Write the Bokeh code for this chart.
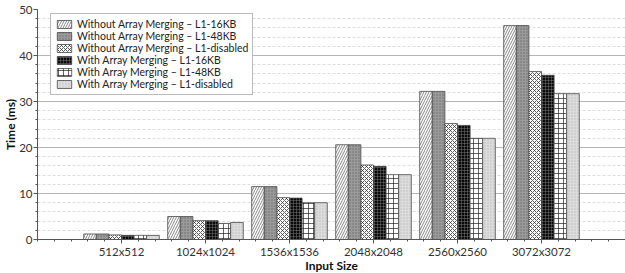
import numpy as np
from bokeh.plotting import figure
from bokeh.models import FixedTicker, SingleIntervalTicker, Range1d, Legend, LegendItem
from bokeh.embed import file_html
from bokeh.resources import INLINE

categories = ["512x512", "1024x1024", "1536x1536", "2048x2048", "2560x2560", "3072x3072"]
series_names = [
    "Without Array Merging \u2013 L1-16KB",
    "Without Array Merging \u2013 L1-48KB",
    "Without Array Merging \u2013 L1-disabled",
    "With Array Merging \u2013 L1-16KB",
    "With Array Merging \u2013 L1-48KB",
    "With Array Merging \u2013 L1-disabled",
]
wo_16kb = [1.2, 5.0, 11.5, 20.6, 32.2, 46.5]
wo_48kb = [1.2, 5.0, 11.5, 20.6, 32.2, 46.5]
wo_disabled = [1.0, 4.1, 9.1, 16.2, 25.2, 36.5]
w_16kb = [0.9, 4.1, 9.0, 15.9, 24.8, 35.7]
w_48kb = [0.9, 3.5, 8.0, 14.1, 22.0, 31.7]
w_disabled = [0.9, 3.7, 8.0, 14.1, 22.0, 31.7]
all_series = [wo_16kb, wo_48kb, wo_disabled, w_16kb, w_48kb, w_disabled]

styles = [
    dict(fill_color="white", hatch_pattern="/", hatch_color="#555555", hatch_scale=5, hatch_weight=0.7),
    dict(fill_color="#9a9a9a", hatch_pattern=".", hatch_color="#6e6e6e", hatch_scale=3, hatch_weight=0.6),
    dict(fill_color="white", hatch_pattern="x", hatch_color="#333333", hatch_scale=4, hatch_weight=0.8),
    dict(fill_color="#0a0a0a", hatch_pattern="+", hatch_color="#777777", hatch_scale=3, hatch_weight=0.5),
    dict(fill_color="white", hatch_pattern="+", hatch_color="#222222", hatch_scale=5, hatch_weight=0.7),
    dict(fill_color="#dcdcdc", hatch_pattern=".", hatch_color="#bdbdbd", hatch_scale=3, hatch_weight=0.6),
]

p = figure(width=625, height=275, output_backend="svg", toolbar_location=None,
           x_range=Range1d(0, 7), y_range=Range1d(0, 50),
           min_border_left=0, min_border_right=0, min_border_top=9, min_border_bottom=0)
p.outline_line_color = None
p.background_fill_color = "white"

x_centers = np.arange(1, len(categories) + 1)
bar_w = 0.15
renderers = []
for i, (vals, st) in enumerate(zip(all_series, styles)):
    xs = x_centers + (i - 2.5) * bar_w
    r = p.vbar(x=xs, top=vals, width=bar_w, bottom=0, line_color="#4a4a4a", line_width=0.8, **st)
    renderers.append(r)

legend = Legend(items=[LegendItem(label=n, renderers=[r]) for n, r in zip(series_names, renderers)],
                location=(13, 144))
legend.label_text_font = "Lato"
legend.label_text_font_size = "10.5px"
legend.label_text_color = "#222222"
legend.glyph_width = 18
legend.glyph_height = 10
legend.label_height = 10
legend.spacing = 0
legend.padding = 4
legend.margin = 0
legend.label_standoff = 4
legend.border_line_color = "#777777"
legend.border_line_width = 1
legend.background_fill_alpha = 1
p.add_layout(legend, "center")

# axes
p.yaxis.ticker = SingleIntervalTicker(interval=10, num_minor_ticks=5)
p.xaxis.ticker = FixedTicker(ticks=list(x_centers), minor_ticks=[round(k * 0.2, 2) for k in range(36)])
p.xaxis.major_label_overrides = {int(k): c for k, c in zip(x_centers, categories)}

for ax in (p.xaxis[0], p.yaxis[0]):
    ax.axis_line_color = "#555555"
    ax.major_tick_line_color = "#555555"
    ax.minor_tick_line_color = "#555555"
    ax.major_tick_out = 4
    ax.major_tick_in = 0
    ax.minor_tick_out = 2
    ax.minor_tick_in = 0
    ax.major_label_text_font = "Lato"
    ax.major_label_text_font_size = "11.5px"
    ax.major_label_text_color = "#333333"
    ax.axis_label_text_font = "Lato"
    ax.axis_label_text_font_style = "bold"
    ax.axis_label_text_font_size = "12px"
    ax.axis_label_text_color = "#111111"

p.yaxis.axis_label = "Time (ms)"
p.xaxis.axis_label = "Input Size"
p.yaxis.major_label_standoff = 1
p.yaxis.axis_label_standoff = -2
p.xaxis.major_label_standoff = 1
p.xaxis.axis_label_standoff = -3

p.xgrid.grid_line_color = None
p.ygrid.grid_line_color = "#b5b5b5"
p.ygrid.grid_line_width = 1
p.ygrid.minor_grid_line_color = "#dddddd"
p.ygrid.minor_grid_line_dash = "3 2"

open("out.html", "w").write(file_html(p, INLINE))
